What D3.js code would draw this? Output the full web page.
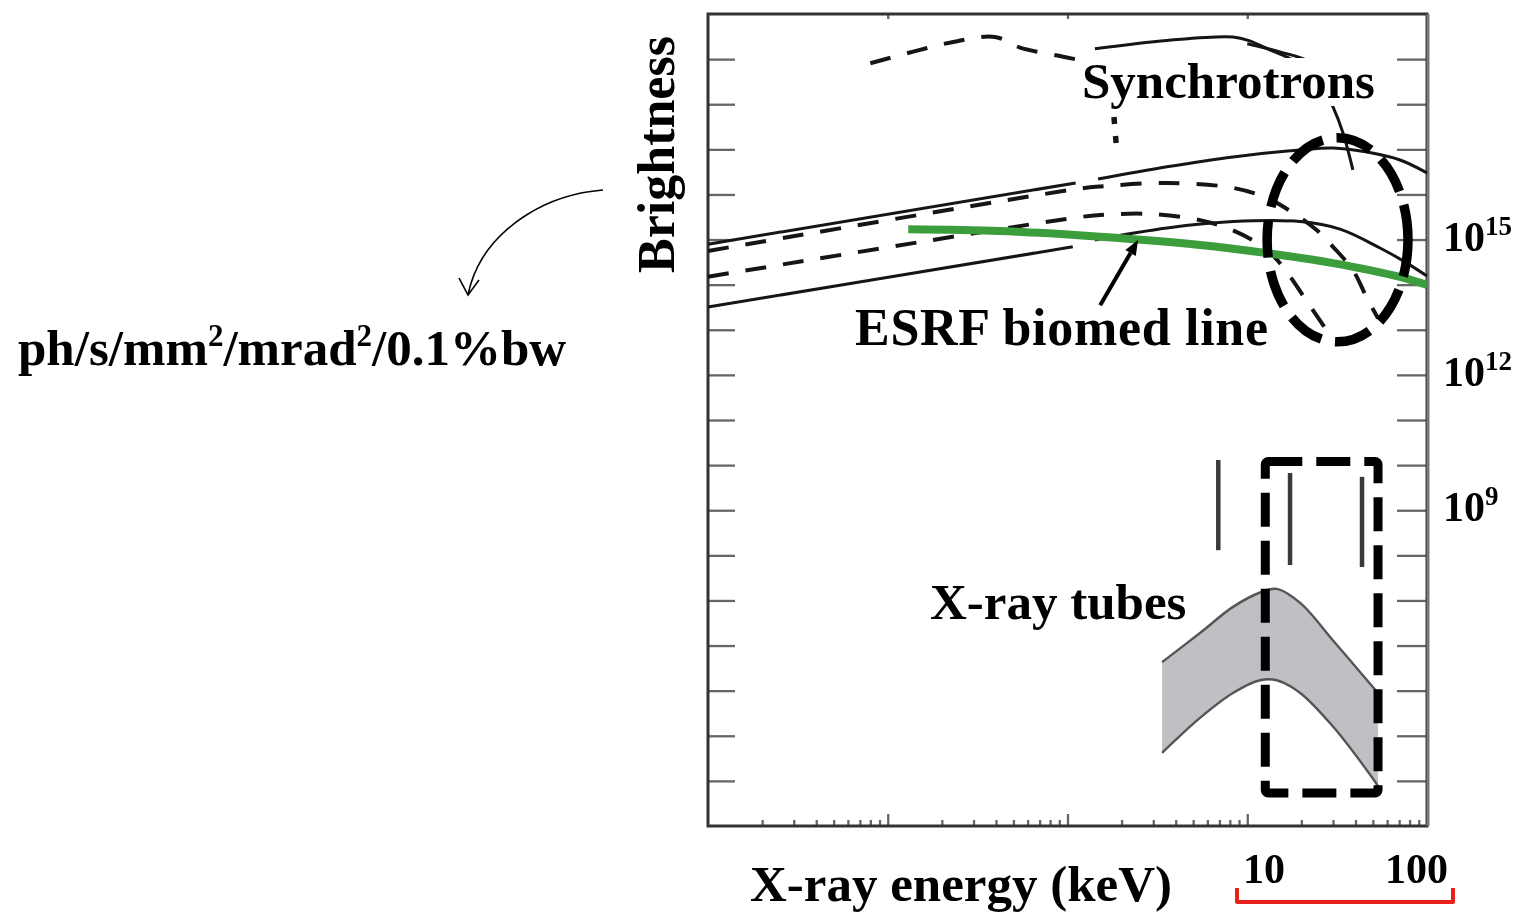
<!DOCTYPE html>
<html>
<head>
<meta charset="utf-8">
<script src="https://cdn.jsdelivr.net/npm/d3@7"></script>
<style>
  html, body { margin: 0; padding: 0; background: #fff; }
  svg { display: block; }
  text { font-family: "Liberation Serif", "Times New Roman", serif; font-weight: bold; fill: #000; }
</style>
</head>
<body>
<svg id="chart" width="1517" height="915"></svg>
<script>
// Photon energy in keV, brightness in ph/s/mm^2/mrad^2/0.1%bw

// Synchrotron sources
const topDashed       = [[0.08, 8.1e18], [0.142, 1.5e19], [0.243, 2.5e19], [0.395, 3.1e19], [0.544, 1.8e19], [0.908, 1.17e19], [1.10, 1.0e19]];
const topSolid        = [[1.42, 1.7e19], [3.58, 2.6e19], [8.33, 3.1e19], [10.4, 2.5e19], [12.9, 1.7e19], [19.7, 7.8e18], [25.4, 3.1e18], [30.0, 8.7e17], [34.1, 2.3e17], [38.7, 3.5e16]];
const topSolidBranch  = [[10.0, 2.2e19], [15.2, 1.45e19], [22.3, 8.7e18], [28.9, 3.5e18]];
const dottedDrop      = [[1.76, 9.5e18], [1.80, 8.3e17], [1.89, 7.4e16]];
const upperSolidLeft  = [[0.01, 7.9e14], [1.11, 1.8e16]];
const upperSolidRight = [[1.48, 2.2e16], [3.58, 4.1e16], [8.33, 6.8e16], [19.7, 9.7e16], [30.0, 1.07e17], [46.4, 8.7e16], [70.8, 5.8e16], [100, 3.0e16]];
const upperDashed     = [[0.01, 5.6e14], [1.10, 1.3e16], [1.52, 1.5e16], [3.58, 1.8e16], [8.33, 1.4e16], [12.9, 8.3e15], [18.0, 3.9e15], [24.4, 1.6e15], [30.0, 6.9e14], [38.7, 2.1e14], [46.4, 5.0e13], [53.4, 1.8e13]];
const lowerDashed     = [[0.01, 1.5e14], [1.07, 3.0e15], [1.52, 3.5e15], [2.88, 3.7e15], [5.46, 2.7e15], [8.33, 1.6e15], [12.9, 5.9e14], [16.6, 1.9e14], [20.9, 5.0e13], [27.1, 1.1e13]];
const lowerSolidLeft  = [[0.01, 3.2e13], [1.07, 6.9e14]];
const lowerSolidRight = [[1.42, 9.8e14], [3.58, 1.8e15], [8.33, 2.5e15], [19.7, 2.5e15], [32.8, 1.7e15], [54.8, 6.5e14], [75.4, 3.2e14], [100, 1.55e14]];
const esrfBiomed      = [[0.13, 1.7e15], [0.421, 1.55e15], [1.52, 1.15e15], [5.46, 7.6e14], [12.9, 5.0e14], [30.0, 3.0e14], [70.8, 1.48e14], [100, 9.8e13]];

// X-ray tube continuum band and characteristic lines
const tubeEnergy = [3.36, 5.46, 8.33, 11.8, 14.6, 19.7, 30.0, 46.4, 53.4];
const tubeHigh   = [4.3e5, 1.9e6, 7.2e6, 1.5e7, 1.8e7, 8.8e6, 1.3e6, 1.7e5, 8.9e4];
const tubeLow    = [4.2e3, 2.5e4, 8.9e4, 1.7e5, 1.7e5, 8.9e4, 1.6e4, 1.7e3, 7.7e2];
const tubeLineEnergy = [6.9, 17.3, 43.5];
const tubeLineLow    = [1.3e8, 6.1e7, 5.5e7];
const tubeLineHigh   = [1.3e10, 6.7e9, 5.5e9];

// Axis ticks
const brightnessTicks = [1e3, 1e4, 1e5, 1e6, 1e7, 1e8, 1e9, 1e10, 1e11, 1e12, 1e13, 1e14, 1e15, 1e16, 1e17, 1e18, 1e19];
const brightnessLabels = [[1e15, "15"], [1e12, "12"], [1e9, "9"]];
const energyDecades = [0.01, 0.1, 1, 10, 100];
const energyLabels = [["10", 1243], ["100", 1385]];

// Highlight regions (energy range, brightness range)
const synchrotronRegion = { e0: 12.9, e1: 78.4, b0: 5.4e12, b1: 1.8e17 };
const tubeRegion = { e0: 12.6, e1: 53.4, b0: 5.4e2, b1: 1.2e10 };
const esrfPointer = { from: [1.52, 3.5e13], to: [2.47, 9.8e14] };

const svg = d3.select("#chart");
const x = d3.scaleLog().domain([0.01, 100]).range([708, 1427]);
const y = d3.scaleLog().domain([1e2, 1e20]).range([826, 14]);
const [xl, xr] = x.range();
const [yb, yt] = y.range();

const soft = svg.append("defs").append("filter").attr("id", "soft")
  .attr("x", "-5%").attr("y", "-5%").attr("width", "110%").attr("height", "110%");
soft.append("feGaussianBlur").attr("stdDeviation", 0.7);

// ---- axes ----
const axes = svg.append("g").attr("filter", "url(#soft)");
const styleAxis = g => {
  g.select(".domain").remove();
  g.selectAll(".tick line").attr("stroke", "#666").attr("stroke-width", 2.3);
  g.selectAll(".tick text").remove();
};
axes.append("g").attr("transform", `translate(${xl},0)`)
  .call(d3.axisLeft(y).tickValues(brightnessTicks).tickSize(-27).tickFormat("")).call(styleAxis);
axes.append("g").attr("transform", `translate(${xr},0)`)
  .call(d3.axisRight(y).tickValues(brightnessTicks).tickSize(-30).tickFormat("")).call(styleAxis);
axes.append("g").attr("transform", `translate(0,${yt})`)
  .call(d3.axisTop(x).tickValues(energyDecades.slice(1, -1)).tickSize(-5).tickFormat("")).call(styleAxis);
const minorEnergy = [];
energyDecades.slice(0, -1).forEach(d => [2, 3, 4, 5, 6, 7, 8, 9].forEach(m => minorEnergy.push(d * m)));
axes.append("g").attr("transform", `translate(0,${yb})`)
  .call(d3.axisBottom(x).tickValues(energyDecades.slice(1, -1)).tickSize(-12).tickFormat("")).call(styleAxis);
axes.append("g").attr("transform", `translate(0,${yb})`)
  .call(d3.axisBottom(x).tickValues(minorEnergy).tickSize(-6).tickFormat("")).call(styleAxis);
axes.append("rect")
  .attr("x", xl).attr("y", yt).attr("width", xr - xl).attr("height", yb - yt)
  .attr("fill", "none").attr("stroke", "#333").attr("stroke-width", 3);
axes.append("line").attr("x1", xr + 1).attr("x2", xr + 1).attr("y1", yt).attr("y2", yb)
  .attr("stroke", "#777").attr("stroke-width", 3);

// ---- curves ----
const line = d3.line().x(d => x(d[0])).y(d => y(d[1])).curve(d3.curveCatmullRom.alpha(0.5));
const curves = svg.append("g").attr("fill", "none").attr("stroke", "#151515");
const solid = { "stroke-width": 3 };
const dashed = { "stroke-width": 4, "stroke-dasharray": "21,17" };
const draw = (data, attrs) => {
  const p = curves.append("path").attr("d", line(data));
  Object.entries(attrs).forEach(([k, v]) => p.attr(k, v));
  return p;
};
draw(topDashed, dashed);
draw(topSolid, solid);
draw(topSolidBranch, solid);
draw(dottedDrop, { "stroke-width": 5.5, "stroke-dasharray": "7,12" });
draw(upperSolidLeft, solid);
draw(upperSolidRight, solid);
draw(upperDashed, dashed);
draw(lowerDashed, dashed);
draw(lowerSolidLeft, solid);
draw(lowerSolidRight, solid);

// ESRF biomedical beamline
curves.append("path").attr("d", line(esrfBiomed))
  .attr("stroke", "#3c9d3c").attr("stroke-width", 8).attr("stroke-linecap", "butt");

// ---- X-ray tubes ----
const tubes = tubeEnergy.map((e, i) => ({ e, hi: tubeHigh[i], lo: tubeLow[i] }));
const band = d3.area().x(d => x(d.e)).y0(d => y(d.lo)).y1(d => y(d.hi)).curve(d3.curveCatmullRom.alpha(0.5));
svg.append("path").attr("d", band(tubes)).attr("fill", "#bfc0c4");
const edge = d3.line().x(d => x(d.e)).curve(d3.curveCatmullRom.alpha(0.5));
svg.append("path").attr("d", edge.y(d => y(d.hi))(tubes)).attr("fill", "none").attr("stroke", "#555").attr("stroke-width", 2.4);
svg.append("path").attr("d", edge.y(d => y(d.lo))(tubes)).attr("fill", "none").attr("stroke", "#555").attr("stroke-width", 2.4);
svg.selectAll(".kline").data(tubeLineEnergy).join("line").attr("class", "kline")
  .attr("x1", d => x(d)).attr("x2", d => x(d))
  .attr("y1", (d, i) => y(tubeLineHigh[i])).attr("y2", (d, i) => y(tubeLineLow[i]))
  .attr("stroke", "#3a3a3a").attr("stroke-width", 4.5);

// ---- highlight regions ----
const ex0 = x(synchrotronRegion.e0), ex1 = x(synchrotronRegion.e1);
const ey0 = y(synchrotronRegion.b1), ey1 = y(synchrotronRegion.b0);
svg.append("ellipse")
  .attr("cx", (ex0 + ex1) / 2).attr("cy", (ey0 + ey1) / 2)
  .attr("rx", (ex1 - ex0) / 2).attr("ry", (ey1 - ey0) / 2)
  .attr("fill", "none").attr("stroke", "#000").attr("stroke-width", 9.5).attr("stroke-dasharray", "37,14");
svg.append("rect")
  .attr("x", x(tubeRegion.e0)).attr("y", y(tubeRegion.b1))
  .attr("width", x(tubeRegion.e1) - x(tubeRegion.e0)).attr("height", y(tubeRegion.b0) - y(tubeRegion.b1))
  .attr("rx", 3)
  .attr("fill", "none").attr("stroke", "#000").attr("stroke-width", 9).attr("stroke-dasharray", "34,14");

// ---- labels ----
const synLabel = svg.append("text").attr("x", 1082).attr("y", 98).attr("font-size", 51).text("Synchrotrons");
const sb = synLabel.node().getBBox();
svg.insert("rect", () => synLabel.node())
  .attr("x", sb.x - 6).attr("y", 58).attr("width", sb.width + 12).attr("height", 48).attr("fill", "#fff");

svg.append("text").attr("x", 855).attr("y", 345).attr("font-size", 52).attr("letter-spacing", 0.7).text("ESRF biomed line");
svg.append("text").attr("x", 930).attr("y", 619).attr("font-size", 51).text("X-ray tubes");

// pointer to the ESRF curve
const [px0, py0] = [x(esrfPointer.from[0]), y(esrfPointer.from[1])];
const [px1, py1] = [x(esrfPointer.to[0]), y(esrfPointer.to[1])];
const ang = Math.atan2(py1 - py0, px1 - px0);
const headLen = 15, headHalf = 6;
const bx = px1 - headLen * Math.cos(ang), by = py1 - headLen * Math.sin(ang);
svg.append("line").attr("x1", px0).attr("y1", py0).attr("x2", bx).attr("y2", by)
  .attr("stroke", "#000").attr("stroke-width", 4);
svg.append("path")
  .attr("d", `M${px1},${py1} L${bx + headHalf * Math.sin(ang)},${by - headHalf * Math.cos(ang)} L${bx - headHalf * Math.sin(ang)},${by + headHalf * Math.cos(ang)} Z`)
  .attr("fill", "#000");

// y axis title and value labels
svg.append("text").attr("transform", "translate(674,273) rotate(-90)").attr("font-size", 52).text("Brightness");
svg.selectAll(".ylab").data(brightnessLabels).join("text").attr("class", "ylab")
  .attr("x", 1443).attr("y", d => y(d[0]) + 11).attr("font-size", 42)
  .call(t => t.append("tspan").text("10"))
  .call(t => t.append("tspan").attr("font-size", 27).attr("dy", -16).text(d => d[1]));

// x axis title and range labels
svg.append("text").attr("x", 750).attr("y", 901).attr("font-size", 51).text("X-ray energy (keV)");
svg.selectAll(".xlab").data(energyLabels).join("text").attr("class", "xlab")
  .attr("x", d => d[1]).attr("y", 883).attr("font-size", 42).text(d => d[0]);
svg.append("path").attr("d", "M1237,888 L1237,902 L1453,902 L1453,888")
  .attr("fill", "none").attr("stroke", "#e8211b").attr("stroke-width", 4).attr("stroke-linejoin", "round");

// units
const unit = svg.append("text").attr("x", 18).attr("y", 365).attr("font-size", 51);
[["ph/s/mm", 0], ["2", 1], ["/mrad", 0], ["2", 1], ["/0.1%bw", 0]].forEach(([s, sup], i, arr) => {
  const ts = unit.append("tspan").text(s);
  if (sup) ts.attr("font-size", 31).attr("dy", -19);
  else if (i > 0 && arr[i - 1][1]) ts.attr("dy", 19);
});
svg.append("path").attr("d", "M603,190 C540,195 480,235 468,295")
  .attr("fill", "none").attr("stroke", "#000").attr("stroke-width", 1.6);
svg.append("path").attr("d", "M459,278 L468,295 L479,280")
  .attr("fill", "none").attr("stroke", "#000").attr("stroke-width", 1.6);
</script>
</body>
</html>
